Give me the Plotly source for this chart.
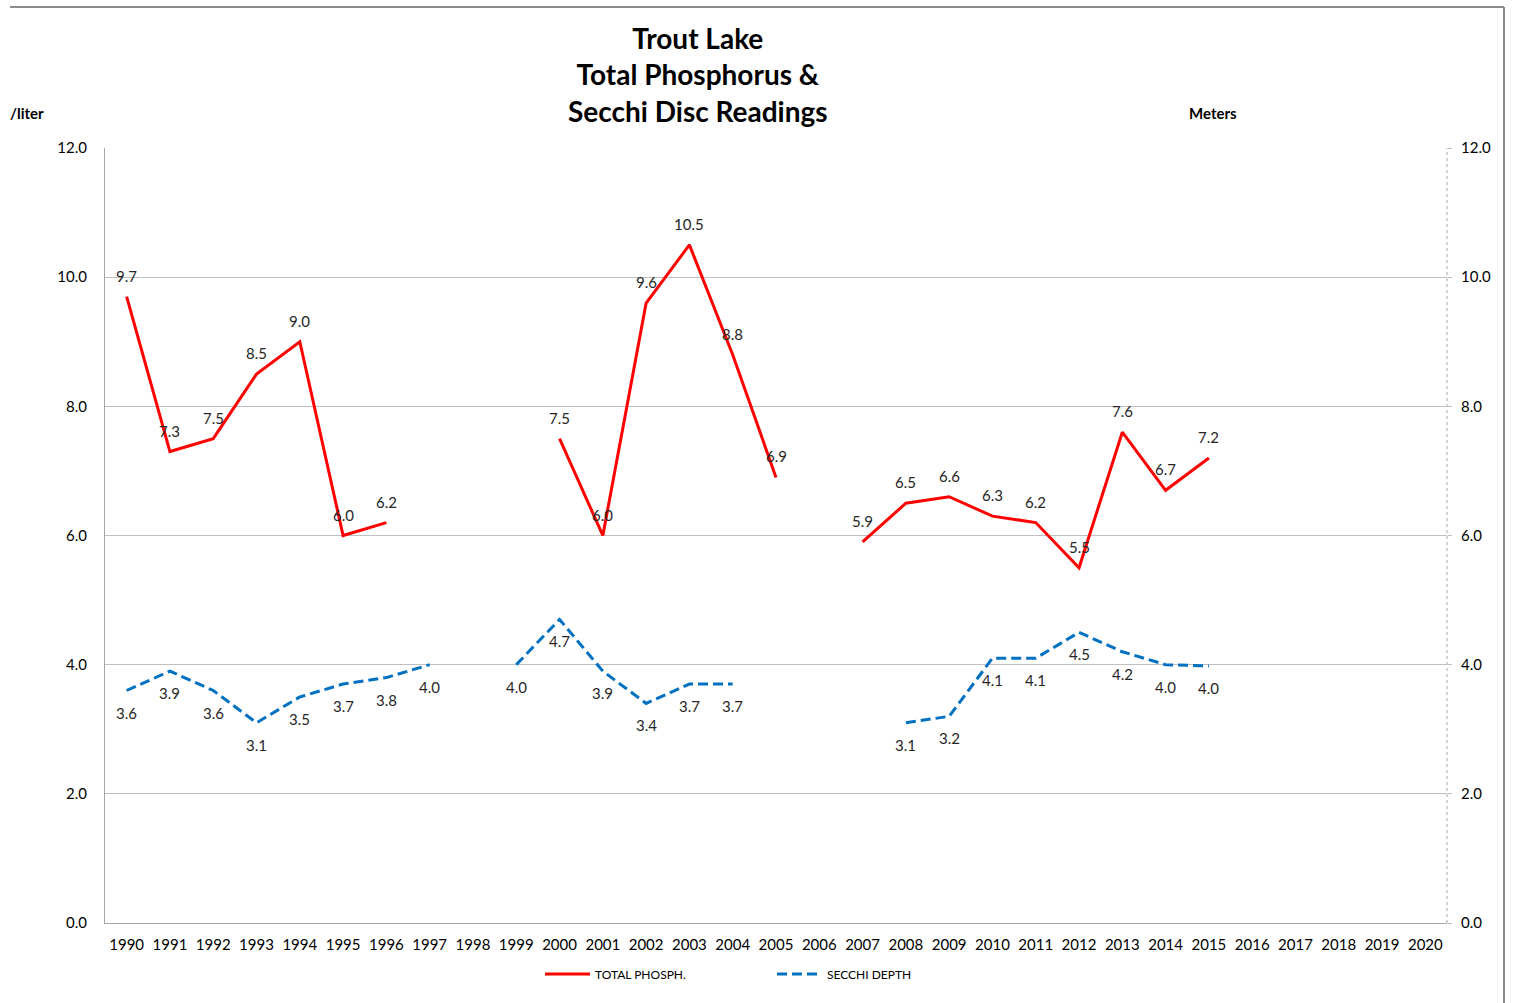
import plotly.graph_objects as go

years = list(range(1990, 2021))
year_labels = [str(y) for y in years]

total_phosph = [9.7, 7.3, 7.5, 8.5, 9.0, 6.0, 6.2, None, None, None,
                7.5, 6.0, 9.6, 10.5, 8.8, 6.9, None, 5.9, 6.5, 6.6,
                6.3, 6.2, 5.5, 7.6, 6.7, 7.2, None, None, None, None, None]

secchi_depth = [3.6, 3.9, 3.6, 3.1, 3.5, 3.7, 3.8, 4.0, None, 4.0,
                4.7, 3.9, 3.4, 3.7, 3.7, None, None, None, 3.1, 3.2,
                4.1, 4.1, 4.5, 4.2, 4.0, 3.98, None, None, None, None, None]

y_ticks = [0, 2, 4, 6, 8, 10, 12]
y_tick_labels = ["0.0", "2.0", "4.0", "6.0", "8.0", "10.0", "12.0"]

FONT = "Lato"

fig = go.Figure()
fig.add_trace(go.Scatter(
    x=years, y=total_phosph, name="TOTAL PHOSPH.",
    mode="lines", connectgaps=False,
    line=dict(color="#FF0000", width=3),
    yaxis="y", cliponaxis=False,
))
fig.add_trace(go.Scatter(
    x=years, y=secchi_depth, name="SECCHI DEPTH",
    mode="lines", connectgaps=False,
    line=dict(color="#0070C0", width=3, dash="10px,5px"),
    yaxis="y2", cliponaxis=False,
))

# data labels
for yr, v in zip(years, total_phosph):
    if v is not None:
        fig.add_annotation(x=yr, y=v, xref="x", yref="y", text=f"{v:.1f}",
                           showarrow=False, yshift=21,
                           font=dict(family=FONT, size=15, color="#262626"))
for yr, v in zip(years, secchi_depth):
    if v is not None:
        fig.add_annotation(x=yr, y=v, xref="x", yref="y2", text=f"{v:.1f}",
                           showarrow=False, yshift=-22,
                           font=dict(family=FONT, size=15, color="#262626"))

W, H = 1514, 1003
L, R, T, B = 105, 67, 148, 80
pw, ph = W - L - R, H - T - B

def px_x(p):
    return (p - L) / pw

def px_y(p):
    return (H - B - p) / ph

fig.update_layout(
    width=W, height=H,
    margin=dict(l=L, r=R, t=T, b=B, pad=0),
    paper_bgcolor="white", plot_bgcolor="white",
    font=dict(family=FONT, color="#000000"),
    showlegend=True,
    legend=dict(
        orientation="h", x=px_x(540), xanchor="left", y=px_y(974), yanchor="middle",
        font=dict(family=FONT, size=12, color="#000000"),
        itemwidth=45, entrywidth=172, traceorder="normal",
    ),
    xaxis=dict(
        range=[1989.5, 2020.5], tickmode="array", tickvals=years, ticktext=year_labels,
        showgrid=False, zeroline=False, showline=True, linecolor="#A6A6A6", linewidth=1,
        ticks="", ticklabelstandoff=8,
        tickfont=dict(family=FONT, size=15, color="#000000"),
    ),
    yaxis=dict(
        range=[0, 12], tickmode="array", tickvals=y_ticks, ticktext=y_tick_labels,
        showgrid=True, gridcolor="#BFBFBF", gridwidth=1, zeroline=False,
        showline=True, linecolor="#A6A6A6", linewidth=1, ticks="",
        ticklabelstandoff=14,
        tickfont=dict(family=FONT, size=15, color="#000000"),
    ),
    yaxis2=dict(
        range=[0, 12], tickmode="array", tickvals=y_ticks, ticktext=y_tick_labels,
        overlaying="y", side="right", showgrid=False, zeroline=False,
        showline=False, ticks="outside", ticklen=4,
        tickcolor="#BFBFBF", ticklabelstandoff=6,
        tickfont=dict(family=FONT, size=15, color="#000000"),
    ),
)

# right axis line (dotted, as in the original)
fig.add_shape(type="line", xref="paper", yref="paper", x0=1, x1=1, y0=0, y1=1,
              line=dict(color="#A6A6A6", width=1, dash="dot"))

# Title
fig.add_annotation(
    xref="paper", yref="paper", x=px_x(698), y=px_y(75), xanchor="center", yanchor="middle",
    text="<b>Trout Lake</b><br><b>Total Phosphorus &amp;</b><br><b>Secchi Disc Readings</b>",
    showarrow=False, align="center",
    font=dict(family=FONT, size=28, color="#000000"),
)
# axis unit labels
fig.add_annotation(
    xref="paper", yref="paper", x=px_x(8), y=px_y(113), xanchor="left", yanchor="middle",
    text="<b>/liter</b>", showarrow=False, font=dict(family=FONT, size=15, color="#000000"),
)
fig.add_annotation(
    xref="paper", yref="paper", x=px_x(1213), y=px_y(113), xanchor="center", yanchor="middle",
    text="<b>Meters</b>", showarrow=False, font=dict(family=FONT, size=15, color="#000000"),
)

# outer chart frame (top and right edges visible)
fig.add_shape(type="line", xref="paper", yref="paper",
              x0=px_x(10), x1=px_x(1504), y0=px_y(7), y1=px_y(7),
              line=dict(color="#8C8C8C", width=2))
fig.add_shape(type="line", xref="paper", yref="paper",
              x0=px_x(1504), x1=px_x(1504), y0=px_y(7), y1=px_y(1003),
              line=dict(color="#8C8C8C", width=2))

fig.write_html("out.html", config={"displayModeBar": False},
               post_script="document.body.style.margin='0';document.body.style.overflow='hidden';")
